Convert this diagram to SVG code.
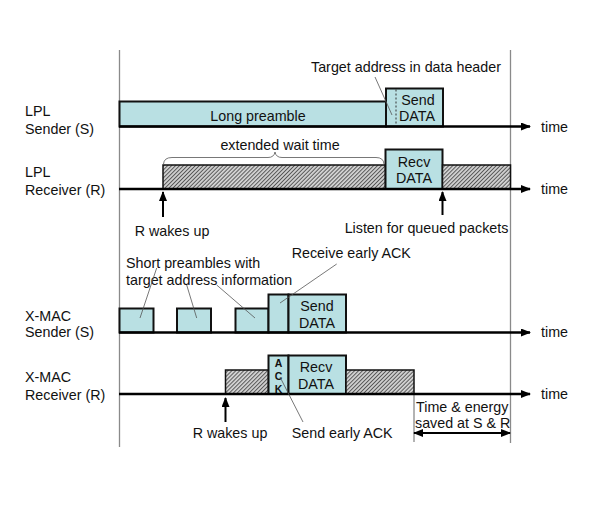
<svg xmlns="http://www.w3.org/2000/svg" width="593" height="505" viewBox="0 0 593 505">
<style>
text{font-family:"Liberation Sans",Arial,sans-serif;font-size:14.3px;fill:#111}
.c{text-anchor:middle}
.box{fill:#b9e0e3;stroke:#111;stroke-width:2}
.hat{fill:url(#hatch);stroke:#111;stroke-width:1.5}
.axis{stroke:#000;stroke-width:2.5;fill:none}
.guide{stroke:#8a8a8a;stroke-width:1.3;fill:none}
.lead{stroke:#555;stroke-width:0.8;fill:none}
.up{stroke:#000;stroke-width:2;fill:none}
.ack{font-size:10.5px;font-weight:bold}
</style>
<defs>
<pattern id="hatch" patternUnits="userSpaceOnUse" width="2.8" height="2.8" patternTransform="rotate(45)">
<rect width="2.8" height="2.8" fill="#cfcfcf"/>
<line x1="0" y1="0" x2="0" y2="2.8" stroke="#222" stroke-width="1.3"/>
</pattern>
<marker id="ah" markerWidth="10" markerHeight="8" refX="9" refY="4" orient="auto" markerUnits="userSpaceOnUse">
<path d="M0,0 L10,4 L0,8 z" fill="#000"/>
</marker>
<marker id="ahs" markerWidth="10" markerHeight="8" refX="1" refY="4" orient="auto" markerUnits="userSpaceOnUse">
<path d="M10,0 L0,4 L10,8 z" fill="#000"/>
</marker>
</defs>
<rect width="593" height="505" fill="#fff"/>

<g id="guides">
<line class="guide" x1="119.5" y1="50" x2="119.5" y2="447"/>
<line class="guide" x1="510.5" y1="50" x2="510.5" y2="443"/>
<line class="guide" x1="414" y1="394" x2="414" y2="442"/>
</g>

<g id="lpl-sender">
<text x="25" y="115.5">LPL</text>
<text x="25" y="133.5">Sender (S)</text>
<rect class="box" x="119.5" y="101.5" width="266.5" height="25"/>
<text class="c" x="258" y="121">Long preamble</text>
<rect class="box" x="386" y="88.5" width="57" height="38"/>
<line x1="396" y1="89.5" x2="396" y2="125.5" stroke="#333" stroke-width="1" stroke-dasharray="2,2"/>
<text class="c" x="418" y="105">Send</text>
<text class="c" x="417" y="120.5">DATA</text>
<text class="c" x="406" y="71.5">Target address in data header</text>
<text x="541" y="131.5">time</text>
</g>

<g id="lpl-receiver">
<text x="25" y="176.5">LPL</text>
<text x="25" y="195">Receiver (R)</text>
<rect class="hat" x="163" y="165" width="222.5" height="24"/>
<rect class="box" x="385.5" y="149.5" width="57" height="39.5"/>
<text class="c" x="414" y="166.5">Recv</text>
<text class="c" x="414" y="182.5">DATA</text>
<rect class="hat" x="442.5" y="165" width="68" height="24"/>
<text class="c" x="280" y="150">extended wait time</text>
<text class="c" x="172" y="236">R wakes up</text>
<text class="c" x="426.5" y="233">Listen for queued packets</text>
<text x="541" y="194">time</text>
</g>

<g id="xmac-sender">
<text x="25" y="321">X-MAC</text>
<text x="25" y="336.5">Sender (S)</text>
<rect class="box" x="119.5" y="308.5" width="34" height="24"/>
<rect class="box" x="177" y="308.5" width="34" height="24"/>
<rect class="box" x="235.5" y="308.5" width="33" height="24"/>
<rect class="box" x="268.5" y="294.5" width="20" height="38"/>
<rect class="box" x="288.5" y="294.5" width="57.5" height="38"/>
<text class="c" x="317" y="311">Send</text>
<text class="c" x="317" y="327.5">DATA</text>
<text x="126" y="267.5">Short preambles with</text>
<text x="126" y="284.5">target address information</text>
<text x="291.7" y="258.3">Receive early ACK</text>
<text x="541" y="337">time</text>
</g>

<g id="xmac-receiver">
<text x="25" y="381.5">X-MAC</text>
<text x="25" y="400">Receiver (R)</text>
<rect class="hat" x="225.5" y="370" width="43" height="24"/>
<rect class="box" x="268.5" y="355.5" width="20" height="38.5"/>
<text class="c ack" x="278.5" y="366.6">A</text>
<text class="c ack" x="278.5" y="379.9">C</text>
<text class="c ack" x="278.5" y="393">K</text>
<rect class="box" x="288.5" y="355.5" width="57.5" height="38.5"/>
<text class="c" x="316" y="371.5">Recv</text>
<text class="c" x="316" y="389">DATA</text>
<rect class="hat" x="346" y="370" width="68" height="24"/>
<text class="c" x="230" y="437.5">R wakes up</text>
<text x="291.7" y="437.5">Send early ACK</text>
<text x="416" y="411.5">Time &amp; energy</text>
<text x="415" y="427.5">saved at S &amp; R</text>
<text x="541" y="398.5">time</text>
</g>

<g id="connectors">
<line class="axis" x1="119" y1="126.5" x2="530" y2="126.5" marker-end="url(#ah)"/>
<line class="axis" x1="119" y1="189" x2="530" y2="189" marker-end="url(#ah)"/>
<line class="axis" x1="119" y1="332.5" x2="530" y2="332.5" marker-end="url(#ah)"/>
<line class="axis" x1="119" y1="394" x2="530" y2="394" marker-end="url(#ah)"/>
<line class="lead" x1="375" y1="77" x2="392" y2="115"/>
<path class="lead" d="M163.5,164 Q164,157.5 172,157.5 L268,157.5 Q274,157.5 275,152 Q276,157.5 282,157.5 L376,157.5 Q383.5,157.5 384,164"/>
<line class="up" x1="163" y1="217" x2="163" y2="192" marker-end="url(#ah)"/>
<line class="up" x1="442.5" y1="215" x2="442.5" y2="192" marker-end="url(#ah)"/>
<line class="lead" x1="156.7" y1="268" x2="140" y2="318"/>
<line class="lead" x1="186.7" y1="285" x2="196.7" y2="318"/>
<line class="lead" x1="216.7" y1="285" x2="255" y2="318"/>
<line class="lead" x1="336.7" y1="264" x2="280" y2="303"/>
<line class="up" x1="225.5" y1="422" x2="225.5" y2="398" marker-end="url(#ah)"/>
<line class="lead" x1="280" y1="377" x2="303" y2="422"/>
<line stroke="#000" stroke-width="2" x1="414" y1="433" x2="510" y2="433" marker-start="url(#ahs)" marker-end="url(#ah)"/>
</g>
</svg>
